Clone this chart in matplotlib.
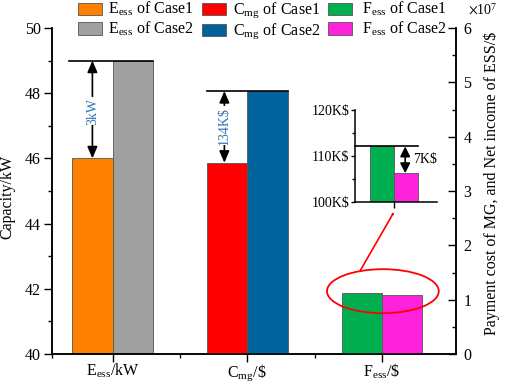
import matplotlib
matplotlib.use("Agg")
import matplotlib.pyplot as plt
from matplotlib.patches import Patch, Ellipse, FancyArrowPatch
from matplotlib.ticker import ScalarFormatter, MultipleLocator, FixedLocator

plt.rcParams['font.family'] = ['Liberation Serif', 'DejaVu Serif']
plt.rcParams['mathtext.fontset'] = 'stix'

# ---- data ----
categories = [r'E$_\mathregular{ess}$/kW', r'C$_\mathregular{mg}$/\$', r'F$_\mathregular{ess}$/\$']
ess_kw = [46.0, 49.0]            # Case1, Case2 (left axis)
cmg_usd = [3.52e7, 4.84e7]       # Case1, Case2 (right axis)
fess_usd = [1.125e7, 1.088e7]    # Case1, Case2 (right axis)
inset_kusd = [112.1, 106.3]      # zoomed F_ess, K$
inset_ticks = [100, 110, 120]
inset_ticklabels = ['100K$', '110K$', '120K$']
diff_labels = ['3kW', '134K$', '7K$']
legend_labels = [r'E$_\mathregular{ess}$ of Case1', r'E$_\mathregular{ess}$ of Case2',
                 r'C$_\mathregular{mg}$ of Case1', r'C$_\mathregular{mg}$ of Case2',
                 r' F$_\mathregular{ess}$ of Case1', r' F$_\mathregular{ess}$ of Case2']
colors = ['#FF8000', '#A0A0A0', '#FF0000', '#00629B', '#00B050', '#FF22DD']

W, H = 505, 382
fig = plt.figure(figsize=(W / 100, H / 100), dpi=100)
ax = fig.add_axes([52 / W, (H - 354) / H, (456 - 52) / W, (354 - 28) / H])
ax2 = ax.twinx()

bw = 0.3
xs = [1, 2, 3]
edge = '#555555'
ax.bar([xs[0] - bw / 2, xs[0] + bw / 2], ess_kw, width=bw, color=colors[0:2],
       edgecolor=edge, linewidth=0.6)
ax2.bar([xs[1] - bw / 2, xs[1] + bw / 2], cmg_usd, width=bw, color=colors[2:4],
        edgecolor=edge, linewidth=0.6)
ax2.bar([xs[2] - bw / 2, xs[2] + bw / 2], fess_usd, width=bw, color=colors[4:6],
        edgecolor=edge, linewidth=0.6)

ax.set_xlim(0.55, 3.55)
ax.set_ylim(40, 50)
ax2.set_ylim(0, 6e7)

for a in (ax, ax2):
    a.spines['top'].set_visible(False)
ax.set_xticks(xs)
ax.set_xticklabels(categories, fontsize=11.5)
ax.xaxis.set_minor_locator(FixedLocator([0.55, 1.5, 2.5]))
ax.yaxis.set_major_locator(MultipleLocator(2))
ax.yaxis.set_minor_locator(MultipleLocator(1))
ax.tick_params(axis='y', which='major', direction='out', length=6, width=1, labelsize=11.5, pad=2)
ax.tick_params(axis='y', which='minor', direction='out', length=3, width=1)
ax.tick_params(axis='x', which='major', direction='out', length=6, width=1, labelsize=11.5, pad=0)
ax.tick_params(axis='x', which='minor', direction='out', length=3, width=1)
ax.set_ylabel('Capacity/kW', fontsize=11.5)
ax.yaxis.set_label_coords((15 - 52) / 404, (354 - 197) / 326)

fmt = ScalarFormatter(useMathText=True)
fmt.set_powerlimits((0, 0))
ax2.yaxis.set_major_formatter(fmt)
ax2.yaxis.set_major_locator(MultipleLocator(1e7))
ax2.yaxis.set_minor_locator(MultipleLocator(0.5e7))
ax2.tick_params(axis='y', which='major', direction='in', length=6, width=1, labelsize=11.5, pad=5)
ax2.tick_params(axis='y', which='minor', direction='in', length=3, width=1)
ax2.yaxis.get_offset_text().set_visible(False)
fig.text(468 / W, (H - 15) / H, r'$\times\mathregular{10}^{\mathregular{7}}$', fontsize=10,
         ha='left', va='baseline')
ax2.set_ylabel('Payment cost of MG, and Net income of ESS/$', fontsize=11.5)
ax2.yaxis.set_label_coords((484 - 52) / 404, (354 - 183) / 326)
for a in (ax, ax2):
    for s in a.spines.values():
        s.set_linewidth(1.1)

txtcol = '#2E75B6'
arrowprops = dict(arrowstyle='<|-|>,head_length=0.7,head_width=0.3', color='black',
                  lw=1.2, shrinkA=0, shrinkB=0)

# E_ess difference
ax.plot([0.675, 1.3], [ess_kw[1], ess_kw[1]], color='black', lw=1.2)
ax.annotate('', xy=(0.85, ess_kw[0]), xytext=(0.85, ess_kw[1]), arrowprops=arrowprops)
ax.text(0.85, 47.45, diff_labels[0], rotation=90, color=txtcol, fontsize=10,
        ha='center', va='center', bbox=dict(facecolor='white', edgecolor='none', pad=0.5))

# C_mg difference
ax2.plot([1.7, 2.3], [cmg_usd[1], cmg_usd[1]], color='black', lw=1.2)
ax2.annotate('', xy=(1.83, cmg_usd[0]), xytext=(1.83, cmg_usd[1]), arrowprops=arrowprops)
ax2.text(1.83, 4.2e7, diff_labels[1], rotation=90, color=txtcol, fontsize=10,
         ha='center', va='center', bbox=dict(facecolor='white', edgecolor='none', pad=0.5))

# ellipse around F_ess bars
ax2.add_patch(Ellipse((3.007, 1.156e7), 0.83, 0.81e7, fill=False, edgecolor='red',
                      lw=1.3, clip_on=False, zorder=5))

# inset
axi = fig.add_axes([355 / W, (H - 202.3) / H, (437 - 355) / W, (202.3 - 110) / H])
axi.bar([-bw / 2, bw / 2], inset_kusd, width=bw, color=colors[4:6], edgecolor=edge,
        linewidth=0.6)
axi.set_xlim(-0.4875, 0.5375)
axi.set_ylim(100, 120)
axi.patch.set_alpha(0)
axi.spines['top'].set_visible(False)
axi.spines['right'].set_visible(False)
for s in ('left', 'bottom'):
    axi.spines[s].set_linewidth(1.1)
axi.set_xticks([0])
axi.set_xticklabels([''])
axi.set_yticks(inset_ticks)
axi.set_yticklabels(inset_ticklabels, fontsize=10)
axi.yaxis.set_minor_locator(MultipleLocator(5))
axi.tick_params(axis='y', which='major', direction='out', length=3, width=1, pad=1)
axi.tick_params(axis='y', which='minor', direction='out', length=2, width=1)
axi.tick_params(axis='x', which='major', direction='out', length=4, width=1)
axi.plot([-0.4875, 0.3], [inset_kusd[0], inset_kusd[0]], color='black', lw=1.2, clip_on=False)
axi.annotate('', xy=(0.14, inset_kusd[1]), xytext=(0.14, inset_kusd[0]),
             arrowprops=dict(arrowstyle='<|-|>,head_length=0.6,head_width=0.3',
                             color='black', lw=1.2, shrinkA=0, shrinkB=0))
axi.text(0.24, 109.2, diff_labels[2], fontsize=10, ha='left', va='center')

# red arrow from ellipse to inset
fig.add_artist(FancyArrowPatch(
    (360 / W, (H - 271) / H), (394 / W, (H - 212) / H), transform=fig.transFigure,
    arrowstyle='-|>,head_length=0.6,head_width=0.3', color='red', lw=1.2,
    shrinkA=0, shrinkB=0))

# legend
handles = [Patch(facecolor=c, edgecolor=edge, linewidth=0.6) for c in colors]
fig.legend(handles, legend_labels, ncol=3, loc='upper left',
           bbox_to_anchor=(78 / W, 0.999), frameon=False, fontsize=11.5,
           borderpad=0, borderaxespad=0, handlelength=1.5, handleheight=0.8,
           handletextpad=0.4, columnspacing=0.5, labelspacing=0.1)

fig.savefig('out.png', dpi=100)
